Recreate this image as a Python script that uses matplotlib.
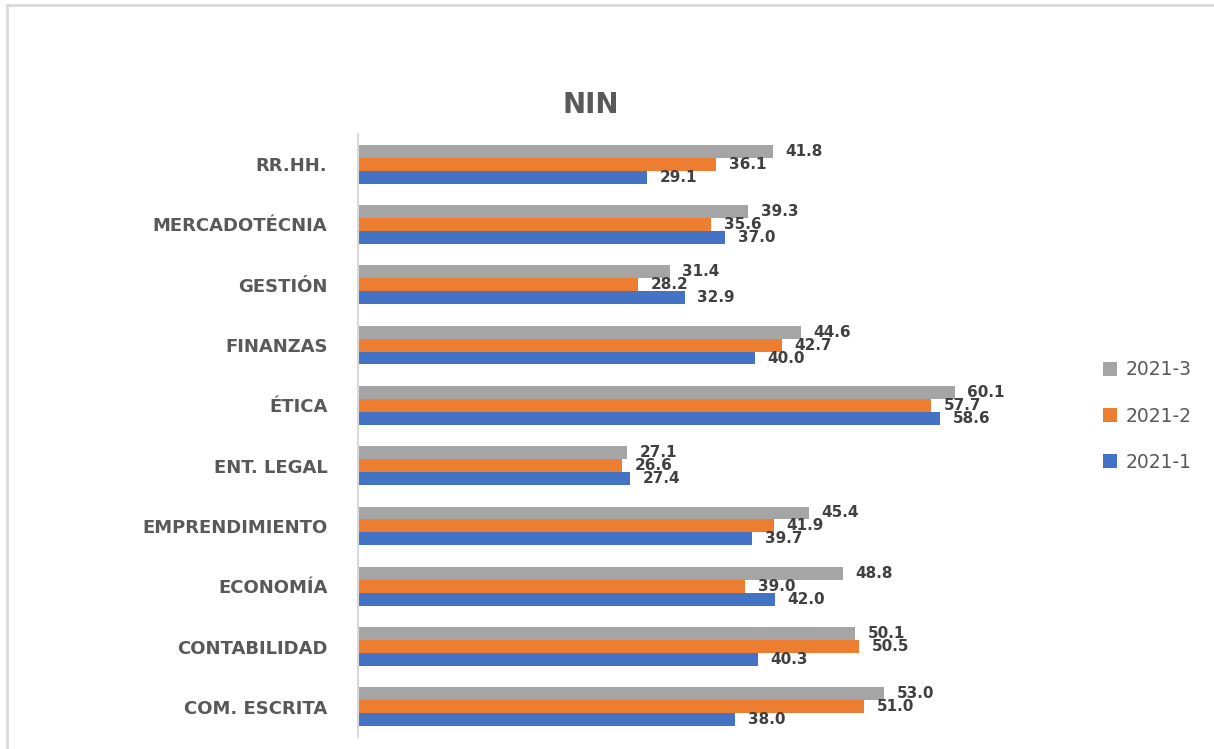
"""Barras horizontales NIN por curso y periodo (2021-1, 2021-2, 2021-3)."""
import matplotlib

matplotlib.use("Agg")

import matplotlib.pyplot as plt
import numpy as np
from matplotlib.lines import Line2D

cursos = [
    "COM. ESCRITA", "CONTABILIDAD", "ECONOMÍA", "EMPRENDIMIENTO", "ENT. LEGAL",
    "ÉTICA", "FINANZAS", "GESTIÓN", "MERCADOTÉCNIA", "RR.HH.",
]
periodo_1 = [38.0, 40.3, 42.0, 39.7, 27.4, 58.6, 40.0, 32.9, 37.0, 29.1]
periodo_2 = [51.0, 50.5, 39.0, 41.9, 26.6, 57.7, 42.7, 28.2, 35.6, 36.1]
periodo_3 = [53.0, 50.1, 48.8, 45.4, 27.1, 60.1, 44.6, 31.4, 39.3, 41.8]
periodos = ["2021-1", "2021-2", "2021-3"]

COLORES = ["#4472C4", "#ED7D31", "#A5A5A5"]
TEXTO = "#595959"
ETIQUETA = "#404040"

fig = plt.figure(figsize=(12.14, 7.49), dpi=100)
ax = fig.add_axes([358 / 1214, 1 - 737 / 749, (1053 - 358) / 1214, (737 - 134) / 749])

y = np.arange(len(cursos))
alto = 0.215
series = [periodo_1, periodo_2, periodo_3]
barras = []
for i, (valores, color, nombre) in enumerate(zip(series, COLORES, periodos)):
    b = ax.barh(y + (i - 1) * alto, valores, alto, color=color, label=nombre)
    barras.append(b)
    ax.bar_label(b, fmt="%.1f", padding=9, fontsize=11, fontweight="bold", color=ETIQUETA)

ax.set_xlim(0, 70)
ax.set_ylim(-0.5, len(cursos) - 0.5)
ax.set_yticks(y, cursos, fontsize=13, fontweight="bold", color=TEXTO)
ax.tick_params(axis="y", length=0, pad=22)
ax.set_xticks([])
for lado in ["top", "right", "bottom"]:
    ax.spines[lado].set_visible(False)
ax.spines["left"].set_color("#D9D9D9")
ax.spines["left"].set_linewidth(1.5)

fig.text(591 / 1214, 1 - 105 / 749, "NIN", ha="center", va="center",
         fontsize=20, fontweight="bold", color=TEXTO)

leg = fig.legend(
    handles=barras[::-1], labels=periodos[::-1], loc="center left",
    bbox_to_anchor=(1086 / 1214, 1 - 416 / 749), frameon=False,
    fontsize=13.5, labelspacing=1.45, handlelength=0.75, handleheight=0.75,
    handletextpad=0.45,
)
for t in leg.get_texts():
    t.set_color(TEXTO)

# marco del grafico
fig.add_artist(Line2D([7 / 1214, 7 / 1214], [0, 1 - 5 / 749], color="#D9D9D9", lw=2))
fig.add_artist(Line2D([7 / 1214, 1], [1 - 5 / 749, 1 - 5 / 749], color="#D9D9D9", lw=2))

fig.savefig("out.png", dpi=100)
